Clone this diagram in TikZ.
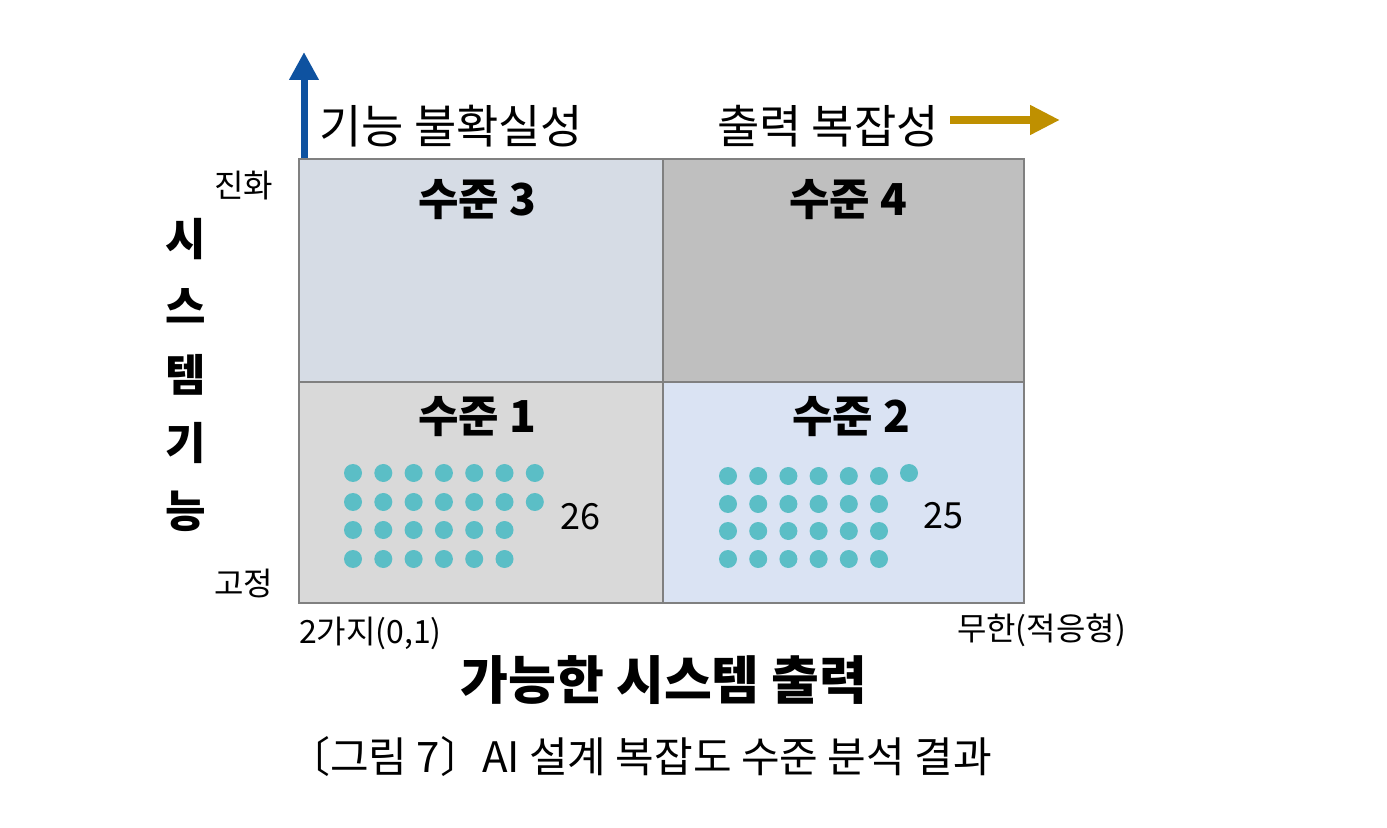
\documentclass[tikz,border=0pt]{standalone}
\usepackage{fontspec}
\newfontfamily\kr{Noto Sans CJK KR}
\usetikzlibrary{arrows.meta}
\usetikzlibrary{positioning}

\definecolor{lvlthree}{RGB}{214,220,229}
\definecolor{lvlfour}{RGB}{191,191,191}
\definecolor{lvlone}{RGB}{217,217,217}
\definecolor{lvltwo}{RGB}{218,227,243}
\definecolor{edgegray}{RGB}{128,128,128}
\definecolor{dotteal}{RGB}{91,190,198}
\definecolor{axisblue}{RGB}{14,82,160}
\definecolor{axisgold}{RGB}{191,144,0}

\tikzset{
  quad/.style={rectangle,draw=edgegray,line width=0.8pt,inner sep=0pt,anchor=north west},
  lvltitle/.style={font=\kr\bfseries\fontsize{22}{26}\selectfont},
  dot/.style={circle,fill=dotteal,inner sep=0pt,minimum size=9pt},
  count/.style={font=\kr\fontsize{18}{22}\selectfont},
  small/.style={font=\kr\fontsize{16}{19}\selectfont},
  axisname/.style={font=\kr\fontsize{23}{27}\selectfont},
}

\begin{document}
\begin{tikzpicture}[x=0.5pt,y=-0.5pt]
\useasboundingbox (0,0) rectangle (1387,828);
% quadrants
\node[quad,fill=lvlthree,minimum width=182pt,minimum height=111.5pt](q3) at (298,158){};
\node[quad,fill=lvlfour,minimum width=180.5pt,minimum height=111.5pt](q4) at (662,158){};
\node[quad,fill=lvlone,minimum width=182pt,minimum height=110.5pt](q1) at (298,381){};
\node[quad,fill=lvltwo,minimum width=180.5pt,minimum height=110.5pt](q2) at (662,381){};
\node[lvltitle](t3) at (477,200){수준 3};
\node[lvltitle](t4) at (848,200){수준 4};
\node[lvltitle](t1) at (477,417){수준 1};
\node[lvltitle](t2) at (851,417){수준 2};
% dots of level 1
\foreach \r/\y/\n in {1/473/7,2/502/7,3/530/6,4/559/6}
  \foreach \c in {1,...,\n}
    \node[dot](d1-\r-\c) at ({353+30.3*(\c-1)},\y){};
\node[count](n1) at (580,517){26};
% dots of level 2
\foreach \r/\y in {1/476,2/504,3/531,4/559}
  \foreach \c in {1,...,6}
    \node[dot](d2-\r-\c) at ({728+30.2*(\c-1)},\y){};
\node[dot](d2-1-7) at (909,473){};
\node[count](n2) at (943,516){25};
% axes
\coordinate (ybase) at (304,158);
\coordinate (ytip) at (304,52);
\draw[axisblue,line width=3.5pt,-{Triangle[width=14pt,length=14pt]}] (ybase) -- (ytip);
\coordinate (xbase) at (950,120);
\coordinate (xtip) at (1060,120);
\draw[axisgold,line width=4pt,-{Triangle[width=14pt,length=15pt]}] (xbase) -- (xtip);
\node[axisname,anchor=west](yname) at (312,126){기능 불확실성};
\node[axisname,anchor=east](xname) at (946,126){출력 복잡성};
% side labels
\node[small,anchor=east](top) at (280,186){진화};
\node[small,anchor=east](bot) at (280,583){고정};
\node[font=\kr\bfseries\fontsize{22}{34}\selectfont,align=center](ylab) at (186,375){시\\스\\템\\기\\능};
\node[small,anchor=west](xmin) at (292,633){2가지(0,1)};
\node[small,anchor=east](xmax) at (1133,630){무한(적응형)};
\node[font=\kr\bfseries\fontsize{26}{31}\selectfont](xlab) at (664,680){가능한 시스템 출력};
\node[font=\kr\fontsize{21}{25}\selectfont](cap) at (640,757){〔그림 7〕AI 설계 복잡도 수준 분석 결과};
\end{tikzpicture}
\end{document}
